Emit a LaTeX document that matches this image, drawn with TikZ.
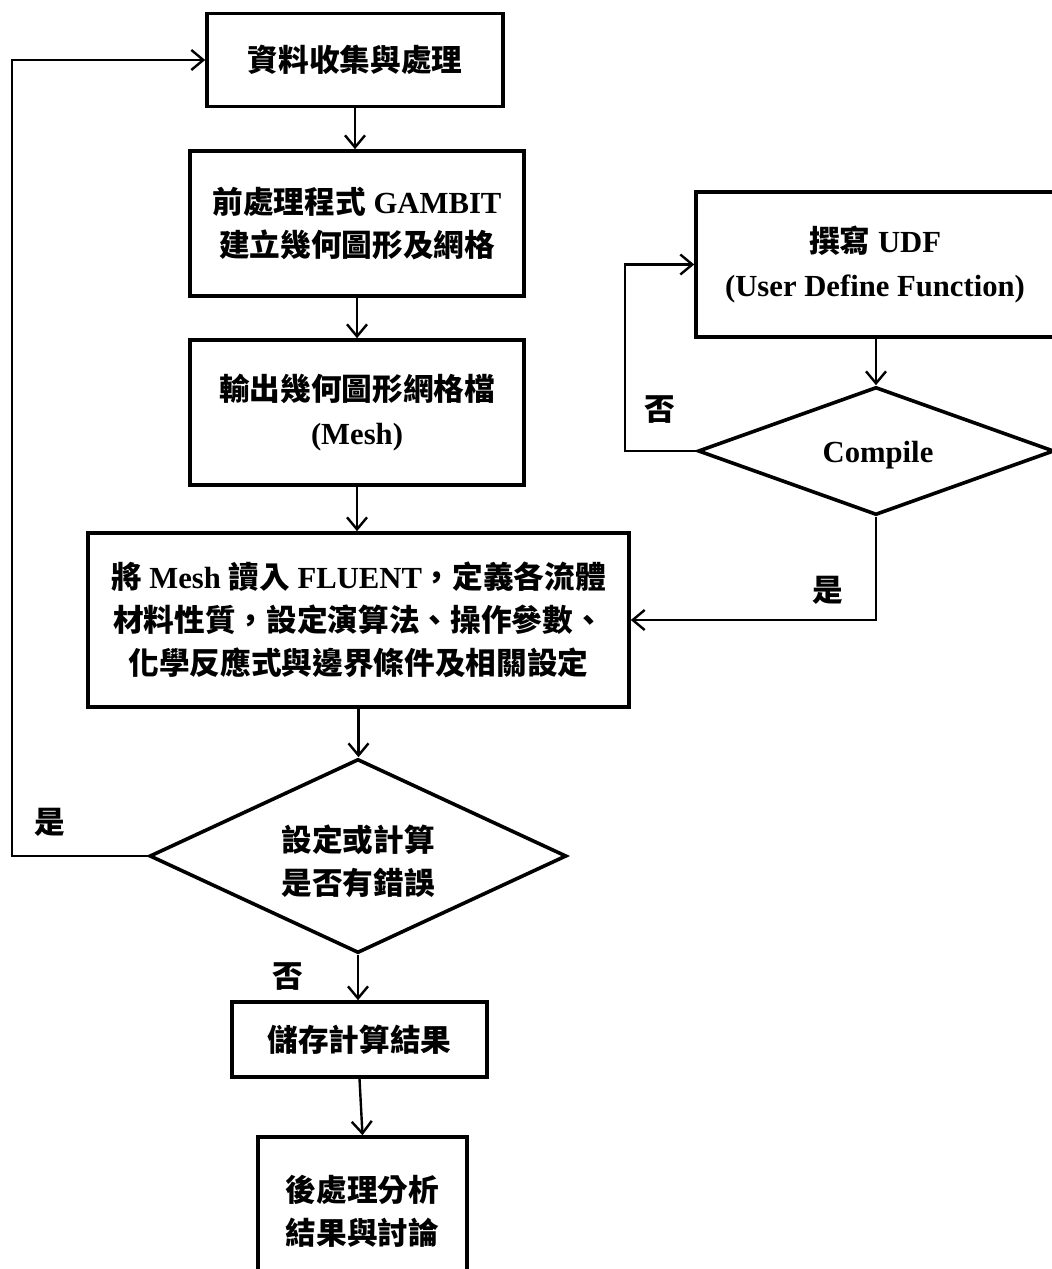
\documentclass[tikz,border=0pt]{standalone}
\usepackage{fontspec}
\setmainfont{Liberation Serif}
\newfontfamily\cjkfont{Noto Sans CJK TC}
\newcommand\zh[1]{{\cjkfont #1}}
\usetikzlibrary{shapes.geometric,arrows.meta}
\begin{document}
\begin{tikzpicture}[x=0.75pt,y=-0.75pt,
  txt/.style={align=center, font=\bfseries\fontsize{23}{32.5}\selectfont},
  box/.style={draw, line width=2.7pt, rectangle, inner sep=0pt, txt},
  dia/.style={draw, line width=2.7pt, diamond, inner sep=0pt},
  conn/.style={line width=1.8pt, -{Straight Barb[length=9pt,width=15pt,line width=1.8pt]}},
  plain/.style={line width=1.8pt}]
\useasboundingbox (0,0) rectangle (1051,1269);
% main column
\node[box, minimum width=222pt, minimum height=69.75pt] (b1) at (355,60) {\zh{資料收集與處理}};
\node[box, minimum width=250.5pt, minimum height=108.75pt] (b2) at (357,223.5) {\zh{前處理程式} GAMBIT\\\zh{建立幾何圖形及網格}};
\node[box, minimum width=250.5pt, minimum height=108.75pt] (b3) at (357,412.5) {\zh{輸出幾何圖形網格檔}\\(Mesh)};
\node[box, minimum width=405.75pt, minimum height=130.5pt] (b4) at (358.5,620) {\zh{將} Mesh \zh{讀入} FLUENT\zh{，定義各流體}\\\zh{材料性質，設定演算法、操作參數、}\\\zh{化學反應式與邊界條件及相關設定}};
\node[dia, minimum width=312.75pt, minimum height=145.5pt] (d1) at (358,856) {};
\node[txt] (d1t) at (358,861) {\zh{設定或計算}\\\zh{是否有錯誤}};
\node[box, minimum width=191.25pt, minimum height=56.25pt] (b5) at (359.5,1039.5) {\zh{儲存計算結果}};
\node[box, minimum width=156.75pt, minimum height=111pt] (b6) at (362.5,1211) {\zh{後處理分析}\\\zh{結果與討論}};
% right branch
\node[box, minimum width=268.5pt, minimum height=108.75pt] (udf) at (875,264.5) {\zh{撰寫} UDF\\(User Define Function)};
\node[dia, minimum width=267pt, minimum height=96pt] (d2) at (876,451) {};
\node[txt] (d2t) at (878,455) {Compile};
\coordinate (c1) at (625,451);
\coordinate (c2) at (12,856);
% connectors
\draw[conn] (b1.south) -- (b1.south |- b2.north);
\draw[conn] (b2.south) -- (b2.south |- b3.north);
\draw[conn] (b3.south) -- (b3.south |- b4.north);
\draw[conn] (b4.south) -- (b4.south |- d1.north);
\draw[conn] (d1.south) -- (d1.south |- b5.north);
\draw[conn] (b5.south) -- (b6.north);
\draw[conn] (udf.south -| d2.north) -- (d2.north);
\draw[conn] (d2.west) -- (c1) |- (udf.west);
\draw[conn] (d2.south) -- (d2.south |- b4.east) -- (b4.east);
\draw[conn] (d1.west) -- (c2) |- (b1.west);
% branch labels
\node[txt] (l1) at (660,410) {\zh{否}};
\node[txt] (l2) at (828,590) {\zh{是}};
\node[txt] (l3) at (50,822) {\zh{是}};
\node[txt] (l4) at (288,977) {\zh{否}};
\end{tikzpicture}
\end{document}
